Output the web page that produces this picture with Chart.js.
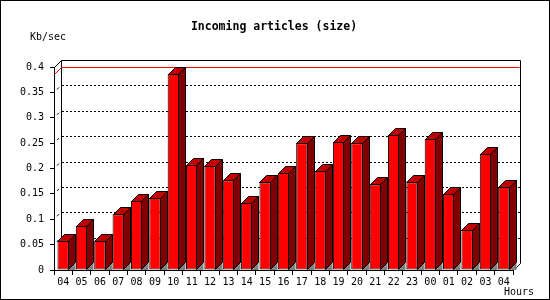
<!DOCTYPE html>
<html>
<head>
<meta charset="utf-8">
<script src="https://cdn.jsdelivr.net/npm/chart.js@4.4.1/dist/chart.umd.min.js"></script>
<style>
  html, body { margin: 0; padding: 0; background: #ffffff; }
  #wrap { width: 550px; height: 300px; position: relative; }
</style>
</head>
<body>
<div id="wrap"><canvas id="c" width="550" height="300"></canvas></div>
<script>
// ---- data ----
const hours = ['04','05','06','07','08','09','10','11','12','13','14','15','16','17','18','19','20','21','22','23','00','01','02','03','04'];
const kbPerSec = [0.057,0.087,0.057,0.110,0.136,0.142,0.386,0.207,0.205,0.177,0.132,0.173,0.191,0.250,0.195,0.252,0.250,0.169,0.266,0.173,0.258,0.150,0.079,0.229,0.164];
const yTicks = { min: 0, max: 0.4, step: 0.05 };
const titleText = 'Incoming articles (size)';
const yUnitText = 'Kb/sec';
const xUnitText = 'Hours';

const DEPTH = 7;
const MONO = '"DejaVu Sans Mono", "Liberation Mono", monospace';

const threeD = {
  id: 'threeD',
  beforeDatasetsDraw(chart) {
    const ctx = chart.ctx;
    const a = chart.chartArea;
    const y = chart.scales.y;
    const d = DEPTH;
    ctx.save();
    ctx.lineWidth = 1;
    // dotted back-wall grid lines
    ctx.strokeStyle = '#000';
    ctx.setLineDash([2, 2]);
    y.ticks.forEach(t => {
      if (t.value <= yTicks.min || t.value >= yTicks.max) return;
      const py = Math.round(y.getPixelForValue(t.value) - d) + 0.5;
      ctx.beginPath();
      ctx.moveTo(a.left + d + 1, py);
      ctx.lineTo(a.right + d, py);
      ctx.stroke();
    });
    // short diagonal marks at each tick level on the left side wall
    ctx.setLineDash([]);
    y.ticks.forEach(t => {
      if (t.value <= yTicks.min || t.value >= yTicks.max) return;
      const py = y.getPixelForValue(t.value);
      ctx.beginPath();
      ctx.moveTo(a.left + 3, py - 3);
      ctx.lineTo(a.left + 5, py - 5);
      ctx.stroke();
    });
    // back wall outline
    const bl = Math.round(a.left + d) + 0.5;
    const br = Math.round(a.right + d) + 0.5;
    const bt = Math.round(a.top - d) + 0.5;
    const bb = Math.round(a.bottom - d) + 0.5;
    ctx.beginPath();
    ctx.moveTo(bl, bb);
    ctx.lineTo(bl, bt);
    ctx.lineTo(br, bt);
    ctx.lineTo(br, bb);
    ctx.lineTo(Math.round(a.right) + 0.5, Math.round(a.bottom) + 0.5);
    ctx.stroke();
    ctx.beginPath();
    ctx.moveTo(Math.round(a.left) + 0.5, Math.round(a.top) + 0.5);
    ctx.lineTo(bl, bt);
    ctx.stroke();
    // red max line
    const maxV = Math.max(...kbPerSec);
    const my = y.getPixelForValue(maxV);
    ctx.strokeStyle = '#ff0000';
    ctx.beginPath();
    ctx.moveTo(Math.round(a.left) + 0.5, Math.round(my) + 0.5);
    ctx.lineTo(bl, Math.round(my - d) + 0.5);
    ctx.lineTo(br - 1, Math.round(my - d) + 0.5);
    ctx.stroke();
    ctx.restore();
  },
  afterDatasetsDraw(chart) {
    const ctx = chart.ctx;
    const d = DEPTH;
    const meta = chart.getDatasetMeta(0);
    ctx.save();
    ctx.lineWidth = 1;
    ctx.strokeStyle = '#000';
    meta.data.forEach(bar => {
      const p = bar.getProps(['x', 'y', 'width', 'base'], true);
      const l = Math.round(p.x - p.width / 2) + 0.5;
      const r = Math.round(p.x + p.width / 2) - 0.5;
      const t = Math.round(p.y) + 0.5;
      const b = Math.round(p.base) - 0.5;
      // floor shadow
      ctx.fillStyle = '#808080';
      ctx.beginPath();
      ctx.moveTo(r, b + 0.5);
      ctx.lineTo(r + d, b + 0.5 - d);
      ctx.lineTo(r + d, b + 0.5);
      ctx.closePath();
      ctx.fill();
      // top face
      ctx.fillStyle = '#c00000';
      ctx.beginPath();
      ctx.moveTo(l, t);
      ctx.lineTo(l + d, t - d);
      ctx.lineTo(r + d, t - d);
      ctx.lineTo(r, t);
      ctx.closePath();
      ctx.fill();
      ctx.stroke();
      // side face
      ctx.fillStyle = '#800000';
      ctx.beginPath();
      ctx.moveTo(r, t);
      ctx.lineTo(r + d, t - d);
      ctx.lineTo(r + d, b - d);
      ctx.lineTo(r, b);
      ctx.closePath();
      ctx.fill();
      ctx.stroke();
    });
    ctx.restore();
  },
  afterDraw(chart) {
    const ctx = chart.ctx;
    ctx.save();
    ctx.fillStyle = '#000';
    ctx.textBaseline = 'middle';
    ctx.font = 'bold 11.5px ' + MONO;
    ctx.textAlign = 'center';
    ctx.fillText(titleText, 274, 27);
    ctx.font = '10px ' + MONO;
    ctx.textAlign = 'left';
    ctx.fillText(yUnitText, 30, 37);
    ctx.fillText(xUnitText, 504, 292);
    // outer frame
    ctx.strokeStyle = '#000';
    ctx.lineWidth = 1;
    ctx.strokeRect(0.5, 0.5, 549, 299);
    ctx.restore();
  }
};

new Chart(document.getElementById('c'), {
  type: 'bar',
  data: {
    labels: hours,
    datasets: [{
      data: kbPerSec,
      backgroundColor: '#ff0000',
      borderColor: '#000000',
      borderWidth: 1,
      borderSkipped: false,
      barPercentage: 0.62,
      categoryPercentage: 1.0
    }]
  },
  options: {
    responsive: false,
    animation: false,
    layout: { padding: { top: 67, right: 37, left: 0, bottom: 0 } },
    plugins: { legend: { display: false }, title: { display: false }, tooltip: { enabled: false } },
    scales: {
      x: {
        afterFit: s => { s.height = 30; },
        grid: { display: true, drawOnChartArea: false, drawTicks: true, tickLength: 5, color: '#000', offset: true },
        border: { display: true, color: '#000' },
        ticks: { color: '#000', font: { family: MONO, size: 10 }, padding: 1, maxRotation: 0, autoSkip: false }
      },
      y: {
        min: yTicks.min,
        max: yTicks.max,
        afterFit: s => { s.width = 54; },
        grid: { display: true, drawOnChartArea: false, drawTicks: true, tickLength: 4, color: '#000' },
        border: { display: true, color: '#000' },
        ticks: {
          stepSize: yTicks.step,
          color: '#000',
          font: { family: MONO, size: 10 },
          padding: 6,
          callback: v => String(+(+v).toFixed(2))
        }
      }
    }
  },
  plugins: [threeD]
});
</script>
</body>
</html>
